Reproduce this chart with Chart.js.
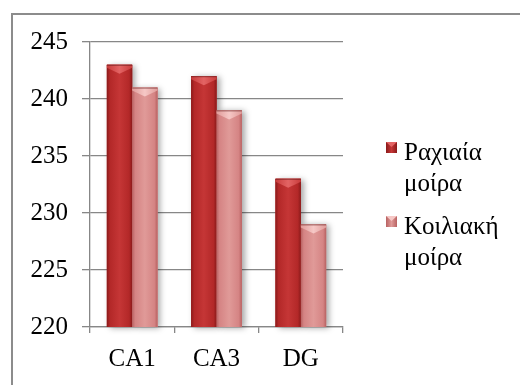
<!DOCTYPE html>
<html>
<head>
<meta charset="utf-8">
<script src="https://cdn.jsdelivr.net/npm/chart.js@4/dist/chart.umd.min.js"></script>
<style>
  html, body { margin: 0; padding: 0; background: #ffffff; }
</style>
</head>
<body>
<canvas id="c" width="520" height="385"></canvas>
<script>
// Regions of the hippocampus
const categories = ['CA1', 'CA3', 'DG'];
// Two series
const seriesNames = ['Ραχιαία μοίρα', 'Κοιλιακή μοίρα'];
const dorsalValues = [243, 242, 233];
const ventralValues = [241, 239, 229];
// Value axis
const yMin = 220;
const yMax = 245;
const yStep = 5;

// Colour sets for the shaded bar faces
const palettes = [
  { base: '#b52a2a', edge: '#8a1a1a', mid: '#b32828', center: '#c53636', cap: '#e36464', capEdge: '#c83c3c' },
  { base: '#d88585', edge: '#b86262', mid: '#d58484', center: '#e09a98', cap: '#f6c8c6', capEdge: '#e09c9a' }
];

const FONT = '"Liberation Serif", serif';

// Column rectangle, kept inside the plot area
function barRect(el, area) {
  const p = el.getProps(['x', 'y', 'base', 'width'], true);
  const top = Math.max(Math.min(p.y, p.base), area.top);
  const bottom = Math.min(Math.max(p.y, p.base), area.bottom);
  return { left: p.x - p.width / 2, right: p.x + p.width / 2, top, bottom, w: p.width, cx: p.x };
}

// Outer chart frame
const framePlugin = {
  id: 'frame',
  beforeDraw(chart) {
    const ctx = chart.ctx;
    ctx.save();
    ctx.strokeStyle = '#8c8c8c';
    ctx.lineWidth = 2;
    ctx.strokeRect(12, 14, 600, 500);
    ctx.restore();
  }
};

// Soft shadow behind the columns
const shadowPlugin = {
  id: 'barShadow',
  beforeDatasetsDraw(chart) {
    const ctx = chart.ctx;
    ctx.save();
    chart.data.datasets.forEach((ds, i) => {
      chart.getDatasetMeta(i).data.forEach(el => {
        const r = barRect(el, chart.chartArea);
        ctx.shadowColor = 'rgba(0,0,0,0.35)';
        ctx.shadowBlur = 6;
        ctx.shadowOffsetX = 3;
        ctx.shadowOffsetY = 1;
        ctx.fillStyle = palettes[i].base;
        ctx.fillRect(r.left, r.top, r.w, r.bottom - r.top);
      });
    });
    ctx.restore();
  }
};

// Cylinder-like shading and bevelled top on every column
const shadePlugin = {
  id: 'barShade',
  afterDatasetsDraw(chart) {
    const ctx = chart.ctx;
    ctx.save();
    chart.data.datasets.forEach((ds, i) => {
      const pal = palettes[i];
      chart.getDatasetMeta(i).data.forEach(el => {
        const r = barRect(el, chart.chartArea);
        const g = ctx.createLinearGradient(r.left, 0, r.right, 0);
        g.addColorStop(0, pal.edge);
        g.addColorStop(0.12, pal.mid);
        g.addColorStop(0.5, pal.center);
        g.addColorStop(0.88, pal.mid);
        g.addColorStop(1, pal.edge);
        ctx.fillStyle = g;
        ctx.fillRect(r.left, r.top, r.w, r.bottom - r.top);
        // bevelled cap
        const cg = ctx.createLinearGradient(r.left, 0, r.right, 0);
        cg.addColorStop(0, pal.capEdge);
        cg.addColorStop(0.5, pal.cap);
        cg.addColorStop(1, pal.capEdge);
        ctx.fillStyle = cg;
        ctx.beginPath();
        ctx.moveTo(r.left, r.top);
        ctx.lineTo(r.right, r.top);
        ctx.lineTo(r.right, r.top + 3);
        ctx.lineTo(r.cx, r.top + 9);
        ctx.lineTo(r.left, r.top + 3);
        ctx.closePath();
        ctx.fill();
        ctx.fillStyle = 'rgba(90,20,20,0.55)';
        ctx.fillRect(r.left, r.top, r.w, 1);
      });
    });
    ctx.restore();
  }
};

// Legend on the right with wrapped series names
const legendPlugin = {
  id: 'sideLegend',
  afterDraw(chart) {
    const ctx = chart.ctx;
    const x0 = chart.chartArea.right + 43;
    const y0 = chart.chartArea.top + 100;
    const itemGap = 74;
    const lineGap = 31;
    ctx.save();
    chart.data.datasets.forEach((ds, i) => {
      const pal = palettes[i];
      const top = y0 + i * itemGap;
      const g = ctx.createLinearGradient(x0, 0, x0 + 11, 0);
      g.addColorStop(0, pal.edge);
      g.addColorStop(0.5, pal.center);
      g.addColorStop(1, pal.edge);
      ctx.fillStyle = g;
      ctx.fillRect(x0, top, 11, 11);
      ctx.fillStyle = pal.cap;
      ctx.beginPath();
      ctx.moveTo(x0, top);
      ctx.lineTo(x0 + 11, top);
      ctx.lineTo(x0 + 5.5, top + 5);
      ctx.closePath();
      ctx.fill();
      ctx.fillStyle = '#000000';
      ctx.font = '25px "Liberation Serif", serif';
      ctx.textAlign = 'left';
      ctx.textBaseline = 'alphabetic';
      ds.label.split(' ').forEach((line, k) => {
        ctx.fillText(line, x0 + 18, top + 18 + k * lineGap);
      });
    });
    ctx.restore();
  }
};

const axisColor = '#878787';

new Chart(document.getElementById('c'), {
  type: 'bar',
  data: {
    labels: categories,
    datasets: [
      { label: seriesNames[0], data: dorsalValues, backgroundColor: palettes[0].base },
      { label: seriesNames[1], data: ventralValues, backgroundColor: palettes[1].base }
    ]
  },
  options: {
    responsive: false,
    animation: false,
    categoryPercentage: 0.6,
    barPercentage: 1.0,
    layout: { padding: { top: 42, right: 177, left: 0, bottom: 0 } },
    plugins: { legend: { display: false }, tooltip: { enabled: false } },
    scales: {
      x: {
        afterFit(scale) { scale.height = 58; },
        grid: { drawOnChartArea: false, drawTicks: true, tickLength: 6, color: axisColor, lineWidth: 1.3, offset: true },
        border: { display: true, color: axisColor, width: 1.3 },
        ticks: { color: '#000000', font: { family: FONT, size: 25 }, padding: 11 }
      },
      y: {
        min: yMin,
        max: yMax,
        afterFit(scale) { scale.width = 90; },
        grid: { color: axisColor, lineWidth: 1.3, tickLength: 8, drawTicks: true },
        border: { display: true, color: axisColor, width: 1.3 },
        ticks: { stepSize: yStep, color: '#000000', font: { family: FONT, size: 25 }, padding: 14 }
      }
    }
  },
  plugins: [framePlugin, shadowPlugin, shadePlugin, legendPlugin]
});
</script>
</body>
</html>
